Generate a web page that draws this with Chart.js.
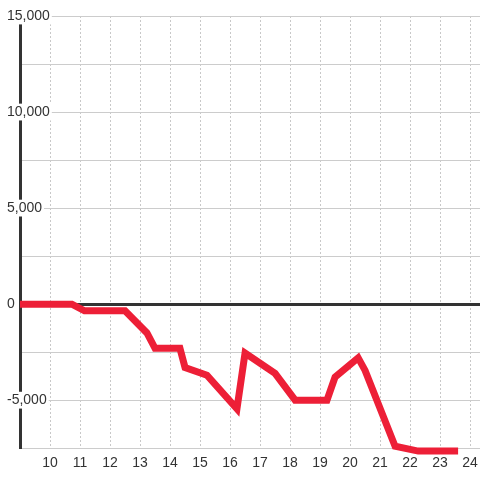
<!DOCTYPE html>
<html>
<head>
<meta charset="utf-8">
<script src="https://cdn.jsdelivr.net/npm/chart.js@4"></script>
<style>
  html, body { margin: 0; padding: 0; background: #fff; }
  #wrap { width: 480px; height: 480px; }
</style>
</head>
<body>
<div id="wrap"><canvas id="lineChart"></canvas></div>
<script>
// Series (x position, value)
const xValues = [9, 10.73, 11.15, 12.5, 13.23, 13.5, 14.33, 14.5, 15.23, 16.23, 16.5, 17.5, 18.17, 19.23, 19.5, 20.27, 20.5, 21.5, 22.27, 23.6];
const yValues = [0, 0, -350, -350, -1500, -2300, -2300, -3300, -3700, -5450, -2550, -3600, -5000, -5000, -3800, -2800, -3450, -7400, -7650, -7650];

// Axis ticks
const xTicks = [10, 11, 12, 13, 14, 15, 16, 17, 18, 19, 20, 21, 22, 23, 24];
const yLabelStep = 5000;

const points = xValues.map((x, i) => ({ x: x, y: yValues[i] }));

Chart.defaults.font.family = '"Liberation Sans", Arial, sans-serif';
Chart.defaults.font.size = 14;
Chart.defaults.color = '#333';

const ctx = document.getElementById('lineChart').getContext('2d');
const chart = new Chart(ctx, {
    type: 'line',
    data: {
        datasets: [{
            data: points,
            borderColor: '#ed1f37',
            borderWidth: 7,
            pointRadius: 0,
            tension: 0,
            fill: false,
            clip: false
        }]
    },
    options: {
        responsive: true,
        maintainAspectRatio: false,
        animation: false,
        layout: {
            padding: { top: 16, bottom: 1, left: 0, right: 0 }
        },
        plugins: {
            legend: { display: false },
            tooltip: { enabled: false }
        },
        scales: {
            x: {
                type: 'linear',
                min: 9,
                max: 24.33,
                afterBuildTicks: function(scale) {
                    scale.ticks = xTicks.map(v => ({ value: v }));
                },
                afterFit: function(scale) {
                    // let the plot run to the right edge like the original
                    scale.paddingLeft = 0;
                    scale.paddingRight = 0;
                },
                grid: {
                    color: '#c8c8c8',
                    lineWidth: 1,
                    drawTicks: false
                },
                border: { display: false, dash: [2, 2] },
                ticks: {
                    padding: 7,
                    color: '#333',
                    maxRotation: 0
                }
            },
            y: {
                min: -7500,
                max: 15000,
                afterFit: function(scale) {
                    scale.width = 20;
                },
                grid: {
                    drawTicks: false,
                    color: c => (c.tick && c.tick.value === 0) ? '#333' : '#cccccc',
                    lineWidth: c => (c.tick && c.tick.value === 0) ? 3 : 1
                },
                border: { display: true, color: '#333', width: 3 },
                ticks: {
                    stepSize: 2500,
                    mirror: true,
                    crossAlign: 'near',
                    padding: -13,
                    color: '#333',
                    showLabelBackdrop: c => c.tick.value % yLabelStep === 0,
                    backdropColor: '#ffffff',
                    backdropPadding: { top: 0, bottom: 0, left: 2, right: 2 },
                    callback: function(value) {
                        return value % yLabelStep === 0 ? value.toLocaleString('en-US') : '';
                    }
                }
            }
        }
    }
});
</script>
</body>
</html>
